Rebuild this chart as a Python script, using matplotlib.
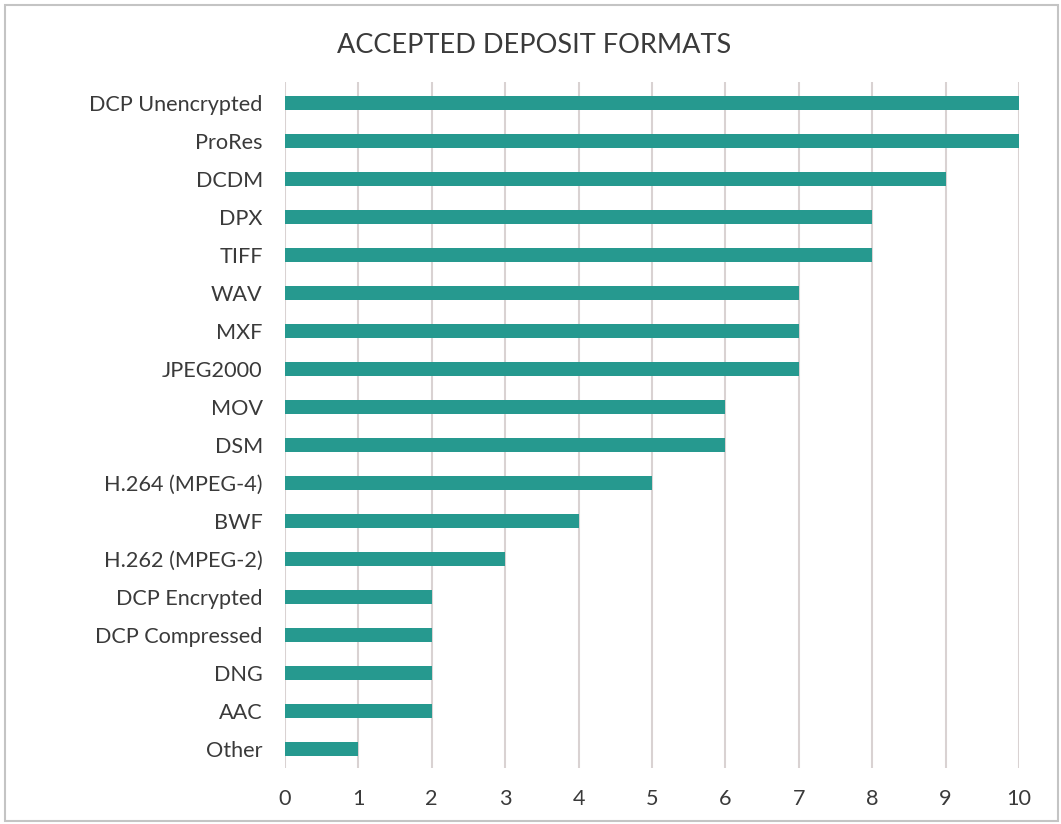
import matplotlib
matplotlib.use("Agg")
import matplotlib.pyplot as plt
from matplotlib.patches import Rectangle

formats = ["DCP Unencrypted", "ProRes", "DCDM", "DPX", "TIFF", "WAV", "MXF",
           "JPEG2000", "MOV", "DSM", "H.264 (MPEG-4)", "BWF", "H.262 (MPEG-2)",
           "DCP Encrypted", "DCP Compressed", "DNG", "AAC", "Other"]
counts = [10, 10, 9, 8, 8, 7, 7, 7, 6, 6, 5, 4, 3, 2, 2, 2, 2, 1]
xticks = list(range(0, 11))

plt.rcParams['font.family'] = ['Lato', 'DejaVu Sans']
txt = '#3a3a3a'

fig = plt.figure(figsize=(10.61, 8.24), dpi=100)
ax = fig.add_axes([0.2686, 0.068, 0.6918, 0.8325])

ax.barh(range(len(formats)), counts, height=0.37, color='#26998f', zorder=3)
ax.set_ylim(len(formats) - 0.5, -0.55)
ax.set_xlim(0, 10)
ax.set_xticks(xticks)
ax.set_yticks(range(len(formats)))
ax.set_yticklabels(formats)
ax.tick_params(axis='both', length=0, labelsize=15.6, colors=txt)
ax.tick_params(axis='y', pad=16)
ax.tick_params(axis='x', pad=15)
ax.xaxis.grid(True, color='#d9d2d2', linewidth=1.5, zorder=0)
for s in ax.spines.values():
    s.set_visible(False)

fig.text(0.503, 0.945, "ACCEPTED DEPOSIT FORMATS", ha='center', va='center',
         fontsize=19.5, color=txt)

# outer frame
fig.patches.append(Rectangle((0.005, 0.004), 0.992, 0.99, transform=fig.transFigure,
                             fill=False, edgecolor='#c4c4c4', linewidth=1.5))

fig.savefig("out.png", dpi=100)
